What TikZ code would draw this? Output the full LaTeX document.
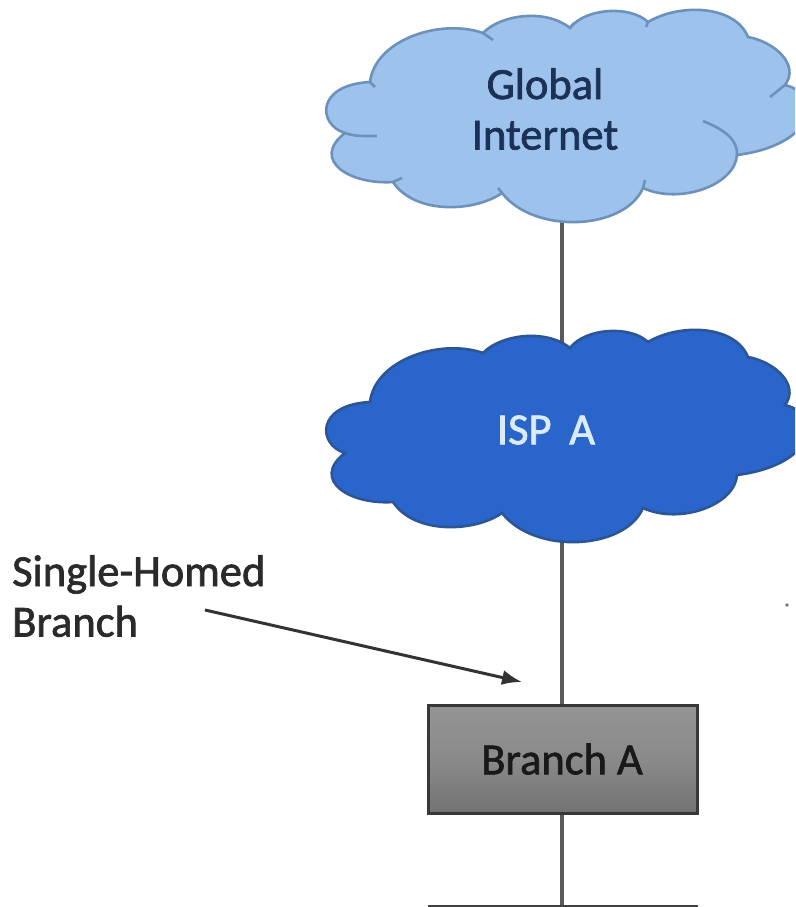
\documentclass[tikz,border=0pt]{standalone}
\usepackage{fontspec}
\usetikzlibrary{arrows.meta}
\setmainfont{Carlito}
\newfontface\boldish{Carlito}[FakeBold=1.6]
\definecolor{globalfill}{HTML}{9DC3EC}
\definecolor{globaledge}{HTML}{6C92BC}
\definecolor{globaltext}{HTML}{1C3156}
\definecolor{ispfill}{HTML}{2A65CC}
\definecolor{ispedge}{HTML}{2B5596}
\definecolor{isptext}{HTML}{DCEBF8}
\definecolor{wire}{HTML}{5A5A5A}
\definecolor{labeltext}{HTML}{2A2A2A}
\newcommand{\cloudoutline}{
  (370,82) .. controls (375,40) and (440,18) .. (483,33)
  .. controls (500,15) and (545,8) .. (570,28)
  .. controls (585,8) and (630,5) .. (648,22)
  .. controls (680,3) and (735,5) .. (748,37)
  .. controls (775,42) and (800,65) .. (785,85)
  .. controls (825,95) and (815,145) .. (737,155)
  .. controls (735,185) and (680,205) .. (643,188)
  .. controls (625,230) and (535,235) .. (502,193)
  .. controls (475,212) and (415,215) .. (393,182)
  .. controls (350,185) and (310,160) .. (345,133)
  .. controls (318,125) and (315,85) .. (370,82) -- cycle}
\newcommand{\cloudcreases}{
  (483,33) -- (493,40)
  (570,28) -- (574,23)
  (648,22) -- (646,27)
  (785,85) -- (770,97)
  (370,82) -- (375,87)
  (345,133) .. controls (355,136) .. (377,136)
  (737,155) .. controls (738,140) and (725,130) .. (703,121)
  (643,188) -- (645,180)
  (393,182) -- (402,178)
  (502,193) -- (498,188)}
\tikzset{
  txt/.style={font=\boldish\fontsize{44.5}{50.5}\selectfont, inner sep=0pt, align=center},
  wireline/.style={draw=wire, line width=3.4pt},
  boxnode/.style={draw=black!78, line width=3.4pt, minimum width=269pt, minimum height=108pt,
    inner sep=0pt, top color=black!42, bottom color=black!55, middle color=black!46},
}
\begin{document}
\begin{tikzpicture}[x=1pt,y=-1pt]
\useasboundingbox (0,0) rectangle (795,907);
\clip (0,0) rectangle (795,907);
\coordinate (globalbottom) at (562,218);
\coordinate (isptop) at (562,345);
\coordinate (ispbottom) at (562,538);
\coordinate (floorleft) at (428,906);
\coordinate (floorright) at (698,906);
\coordinate (floormid) at (562,906);
\coordinate (arrowstart) at (205,610);
\coordinate (arrowend) at (522,682);
\node[boxnode] (branch) at (563,759.5) {};
\draw[wireline] (globalbottom) -- (isptop);
\draw[wireline] (ispbottom) -- (branch.north -| ispbottom);
\draw[wireline] (branch.south -| ispbottom) -- (floormid);
\draw[line width=2.4pt, draw=black!75] (floorleft) -- (floorright);
\path[fill=globalfill] \cloudoutline;
\draw[globaledge, line width=2.6pt] \cloudoutline;
\draw[globaledge, line width=2.6pt] \cloudcreases;
\begin{scope}[shift={(0,320)}]
\path[fill=ispfill] \cloudoutline;
\draw[ispedge, line width=2.6pt] \cloudoutline;
\end{scope}
\node[txt, text=globaltext] (globaltxt) at (545,109) {Global\\Internet};
\node[txt, text=isptext] (isptxt) at (546,430) {ISP\hspace{0.4em}A};
\node[txt, text=black!90] (branchtxt) at (562,759) {Branch A};
\node[txt, text=labeltext, align=left, anchor=north west] (label) at (12,555) {Single-Homed\\Branch};
\draw[draw=black!80, line width=3pt, -{Latex[length=20pt,width=15pt]}] (arrowstart) -- (arrowend);
\fill[black!55] (787,605) circle (1.8pt);
\end{tikzpicture}
\end{document}
